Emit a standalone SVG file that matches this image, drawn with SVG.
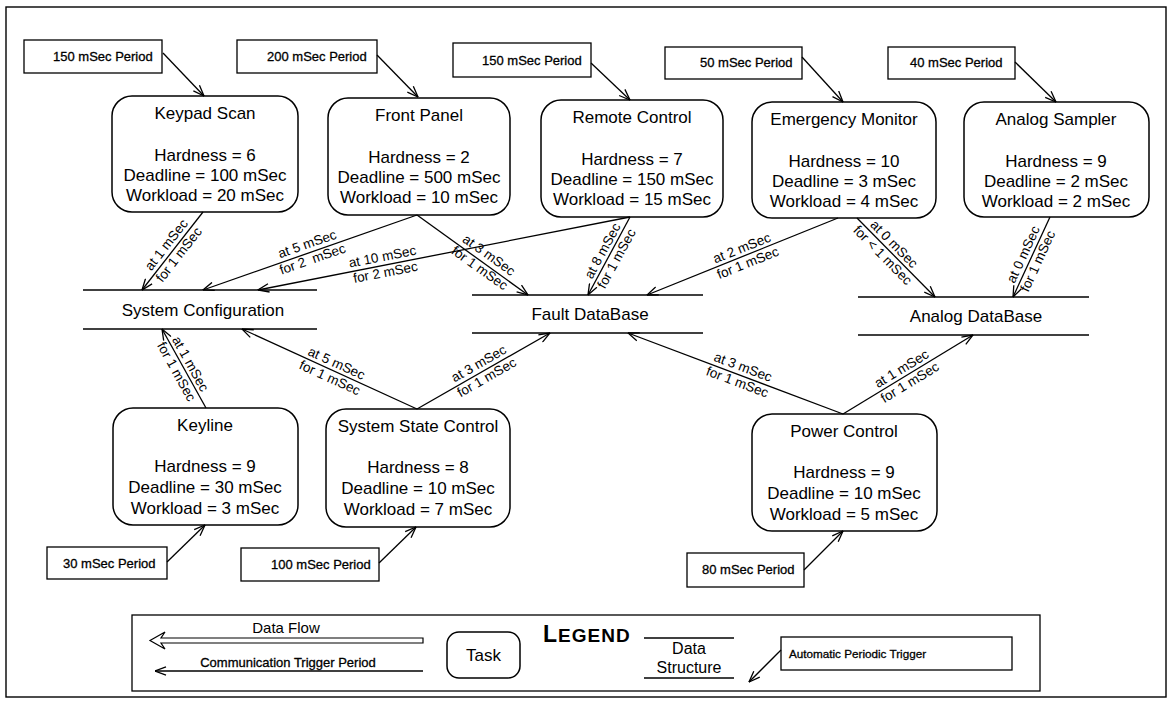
<svg xmlns="http://www.w3.org/2000/svg" width="1172" height="703" viewBox="0 0 1172 703">
<defs>
<marker id="arr" viewBox="0 0 12 10" refX="11.5" refY="5" markerWidth="12" markerHeight="10" markerUnits="userSpaceOnUse" orient="auto">
<path d="M0.5,0.8 L11.5,5 L0.5,9.2" fill="none" stroke="#000" stroke-width="1.3"/>
</marker>
</defs>
<style>
text{font-family:"Liberation Sans",Arial,sans-serif;fill:#000}
.task{fill:#fff;stroke:#000;stroke-width:1.5}
.per{fill:#fff;stroke:#000;stroke-width:1.3}
.pt{font-size:13px;stroke:#000;stroke-width:0.3}
.tt{font-size:17px;text-anchor:middle}
.ds{stroke:#000;stroke-width:1.4}
.c{stroke:#000;stroke-width:1.3;fill:none;marker-end:url(#arr)}
.lb{font-size:13.5px;text-anchor:middle}
</style>
<rect x="6" y="7" width="1160" height="690" fill="none" stroke="#000" stroke-width="1.4"/>

<g id="p-keypad"><rect class="per" x="24" y="40" width="138" height="33"/><text class="pt" x="53" y="61">150 mSec Period</text></g>
<g id="p-front"><rect class="per" x="237" y="40" width="140" height="33"/><text class="pt" x="267" y="61">200 mSec Period</text></g>
<g id="p-remote"><rect class="per" x="453" y="43" width="138" height="34"/><text class="pt" x="482" y="65">150 mSec Period</text></g>
<g id="p-emerg"><rect class="per" x="665" y="47" width="137" height="32"/><text class="pt" x="700" y="67">50 mSec Period</text></g>
<g id="p-analog"><rect class="per" x="888" y="47" width="127" height="32"/><text class="pt" x="910" y="67">40 mSec Period</text></g>
<g id="p-keyline"><rect class="per" x="47" y="547" width="120" height="32"/><text class="pt" x="63" y="568">30 mSec Period</text></g>
<g id="p-ssc"><rect class="per" x="241" y="548" width="138" height="33"/><text class="pt" x="271" y="569">100 mSec Period</text></g>
<g id="p-power"><rect class="per" x="687" y="553" width="117" height="34"/><text class="pt" x="702" y="574">80 mSec Period</text></g>

<g id="keypad-scan"><rect class="task" x="112" y="96" width="186" height="116" rx="20"/>
<text class="tt" x="205" y="119">Keypad Scan</text><text class="tt" x="205" y="161">Hardness = 6</text><text class="tt" x="205" y="181">Deadline = 100 mSec</text><text class="tt" x="205" y="201">Workload = 20 mSec</text></g>
<g id="front-panel"><rect class="task" x="328" y="98" width="182" height="117" rx="20"/>
<text class="tt" x="419" y="121">Front Panel</text><text class="tt" x="419" y="163">Hardness = 2</text><text class="tt" x="419" y="183">Deadline = 500 mSec</text><text class="tt" x="419" y="203">Workload = 10 mSec</text></g>
<g id="remote-control"><rect class="task" x="541" y="100" width="182" height="117" rx="20"/>
<text class="tt" x="632" y="123">Remote Control</text><text class="tt" x="632" y="165">Hardness = 7</text><text class="tt" x="632" y="185">Deadline = 150 mSec</text><text class="tt" x="632" y="205">Workload = 15 mSec</text></g>
<g id="emergency-monitor"><rect class="task" x="752" y="102" width="184" height="116" rx="20"/>
<text class="tt" x="844" y="125">Emergency Monitor</text><text class="tt" x="844" y="167">Hardness = 10</text><text class="tt" x="844" y="187">Deadline = 3 mSec</text><text class="tt" x="844" y="207">Workload = 4 mSec</text></g>
<g id="analog-sampler"><rect class="task" x="964" y="102" width="185" height="115" rx="20"/>
<text class="tt" x="1056" y="125">Analog Sampler</text><text class="tt" x="1056" y="167">Hardness = 9</text><text class="tt" x="1056" y="187">Deadline = 2 mSec</text><text class="tt" x="1056" y="207">Workload = 2 mSec</text></g>
<g id="keyline"><rect class="task" x="113" y="408" width="185" height="117" rx="20"/>
<text class="tt" x="205" y="431">Keyline</text><text class="tt" x="205" y="472">Hardness = 9</text><text class="tt" x="205" y="493">Deadline = 30 mSec</text><text class="tt" x="205" y="514">Workload = 3 mSec</text></g>
<g id="system-state-control"><rect class="task" x="326" y="409" width="184" height="118" rx="20"/>
<text class="tt" x="418" y="432">System State Control</text><text class="tt" x="418" y="473">Hardness = 8</text><text class="tt" x="418" y="494">Deadline = 10 mSec</text><text class="tt" x="418" y="515">Workload = 7 mSec</text></g>
<g id="power-control"><rect class="task" x="752" y="414" width="185" height="117" rx="20"/>
<text class="tt" x="844" y="437">Power Control</text><text class="tt" x="844" y="478">Hardness = 9</text><text class="tt" x="844" y="499">Deadline = 10 mSec</text><text class="tt" x="844" y="520">Workload = 5 mSec</text></g>

<g id="system-configuration"><line class="ds" x1="83" y1="290" x2="317" y2="290"/><line class="ds" x1="83" y1="329" x2="317" y2="329"/><text class="tt" x="203" y="316">System Configuration</text></g>
<g id="fault-database"><line class="ds" x1="472" y1="295" x2="703" y2="295"/><line class="ds" x1="472" y1="333" x2="703" y2="333"/><text class="tt" x="590" y="320">Fault DataBase</text></g>
<g id="analog-database"><line class="ds" x1="858" y1="297" x2="1089" y2="297"/><line class="ds" x1="858" y1="335" x2="1089" y2="335"/><text class="tt" x="976" y="322">Analog DataBase</text></g>

<g id="connectors">
<line class="c" x1="163" y1="53" x2="204" y2="96"/>
<line class="c" x1="377" y1="55" x2="418" y2="97"/>
<line class="c" x1="591" y1="63" x2="630" y2="100"/>
<line class="c" x1="802" y1="57" x2="843" y2="102"/>
<line class="c" x1="1015" y1="62" x2="1056" y2="102"/>
<line class="c" x1="167" y1="562" x2="205" y2="525"/>
<line class="c" x1="379" y1="563" x2="416" y2="527"/>
<line class="c" x1="804" y1="570" x2="843" y2="531"/>

<line class="c" x1="203" y1="212" x2="142" y2="290"/>
<line class="c" x1="417" y1="215" x2="203" y2="290"/>
<line class="c" x1="417" y1="215" x2="528" y2="295"/>
<line class="c" x1="630" y1="217" x2="258" y2="290"/>
<line class="c" x1="630" y1="217" x2="588" y2="295"/>
<line class="c" x1="838" y1="218" x2="647" y2="295"/>
<line class="c" x1="857" y1="218" x2="935" y2="297"/>
<line class="c" x1="1050" y1="217" x2="1013" y2="297"/>
<line class="c" x1="206" y1="408" x2="162" y2="329"/>
<line class="c" x1="417" y1="409" x2="242" y2="329"/>
<line class="c" x1="417" y1="409" x2="550" y2="333"/>
<line class="c" x1="843" y1="414" x2="628" y2="333"/>
<line class="c" x1="843" y1="414" x2="973" y2="335"/>

<g transform="translate(173,250) rotate(-52)"><text class="lb" y="-4">at 1 mSec</text><text class="lb" y="12">for 1 mSec</text></g>
<g transform="translate(310,252) rotate(-19.3)"><text class="lb" y="-4">at 5 mSec</text><text class="lb" y="12" xml:space="preserve">for 2  mSec</text></g>
<g transform="translate(484,262) rotate(35.4)"><text class="lb" y="-4">at 3 mSec</text><text class="lb" y="12">for 1 mSec</text></g>
<g transform="translate(384,265) rotate(-11)"><text class="lb" y="-4">at 10 mSec</text><text class="lb" y="12">for 2 mSec</text></g>
<g transform="translate(610,255) rotate(-61.3)"><text class="lb" y="-4">at 8 mSec</text><text class="lb" y="12">for 1 mSec</text></g>
<g transform="translate(745,256) rotate(-21.9)"><text class="lb" y="-4">at 2 mSec</text><text class="lb" y="12">for 1 mSec</text></g>
<g transform="translate(888,250) rotate(45.4)"><text class="lb" y="-4">at 0 mSec</text><text class="lb" y="12">for &lt; 1 mSec</text></g>
<g transform="translate(1031,258) rotate(-65.2)"><text class="lb" y="-4">at 0 mSec</text><text class="lb" y="12">for 1 mSec</text></g>
<g transform="translate(183,368) rotate(60.9)"><text class="lb" y="-4">at 1 mSec</text><text class="lb" y="12">for 1 mSec</text></g>
<g transform="translate(333,371) rotate(24.6)"><text class="lb" y="-4">at 5 mSec</text><text class="lb" y="12">for 1 mSec</text></g>
<g transform="translate(483,371) rotate(-29.7)"><text class="lb" y="-4">at 3 mSec</text><text class="lb" y="12">for 1 mSec</text></g>
<g transform="translate(740,375) rotate(20.6)"><text class="lb" y="-4">at 3 mSec</text><text class="lb" y="12">for 1 mSec</text></g>
<g transform="translate(906,376) rotate(-31.3)"><text class="lb" y="-4">at 1 mSec</text><text class="lb" y="12">for 1 mSec</text></g>
</g>

<g id="legend">
<rect x="132" y="615" width="908" height="76" fill="none" stroke="#000" stroke-width="1.3"/>
<text x="286" y="633" font-size="15" text-anchor="middle">Data Flow</text>
<polygon points="423,638 161,638 165,632 150,640.5 165,649 161,643 423,643" fill="#fff" stroke="#000" stroke-width="1.2"/>
<text class="pt" x="288" y="667" text-anchor="middle">Communication Trigger Period</text>
<line class="c" x1="423" y1="671" x2="155" y2="671"/>
<rect class="task" x="447" y="632" width="73" height="46" rx="12"/>
<text class="tt" x="483.5" y="661">Task</text>
<text x="543" y="642" font-weight="bold" letter-spacing="1"><tspan font-size="23">L</tspan><tspan font-size="19">EGEND</tspan></text>
<line class="ds" x1="644" y1="638" x2="734" y2="638"/>
<line class="ds" x1="644" y1="678" x2="734" y2="678"/>
<text x="689" y="654" font-size="16" text-anchor="middle">Data</text>
<text x="689" y="673" font-size="16" text-anchor="middle">Structure</text>
<rect class="per" x="781" y="637" width="231" height="33"/>
<text class="pt" x="789" y="658" style="font-size:11.7px">Automatic Periodic Trigger</text>
<line class="c" x1="781" y1="650" x2="749" y2="682"/>
</g>
</svg>
